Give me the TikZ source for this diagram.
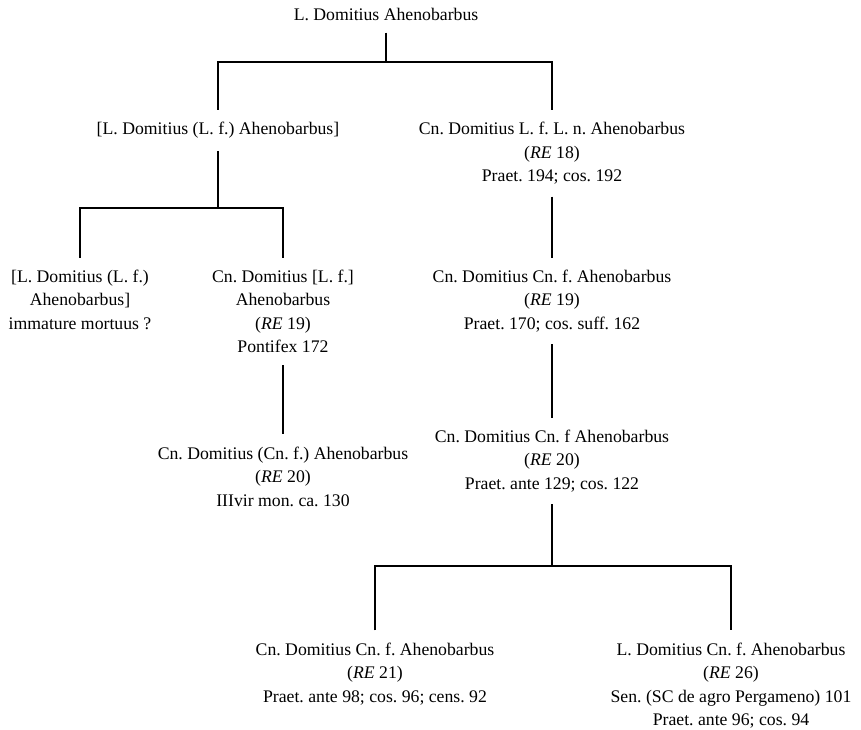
\documentclass[tikz,border=0pt]{standalone}
\usepackage{fontspec}
\setmainfont{Liberation Serif}
\frenchspacing
\begin{document}
\begin{tikzpicture}[
        person/.style={align=center, anchor=north, inner xsep=0pt, inner ysep=0.3cm,
            font=\fontsize{12.6}{16.7}\selectfont},
        link/.style={black, line width=1.1pt}
    ]
        \useasboundingbox (0,0) rectangle (21.525,18.25);
        % generations, top to bottom
        \node[person] (ahen) at (9.65, 18.36) {L. Domitius Ahenobarbus};
        \node[person] (lfa) at (5.45, 15.5) {[L. Domitius (L. f.) Ahenobarbus]};
        \node[person] (cn18) at (13.8, 15.5) {Cn. Domitius L. f. L. n. Ahenobarbus\\(\textit{RE} 18)\\Praet. 194; cos. 192};
        \node[person] (immat) at (2.0, 11.81) {[L. Domitius (L. f.)\\Ahenobarbus]\\immature mortuus ?};
        \node[person] (cn19p) at (7.075, 11.81) {Cn. Domitius [L. f.]\\Ahenobarbus\\(\textit{RE} 19)\\Pontifex 172};
        \node[person] (cn19) at (13.8, 11.81) {Cn. Domitius Cn. f. Ahenobarbus\\(\textit{RE} 19)\\Praet. 170; cos. suff. 162};
        \node[person] (cn20m) at (7.075, 7.39) {Cn. Domitius (Cn. f.) Ahenobarbus\\(\textit{RE} 20)\\IIIvir mon. ca. 130};
        \node[person] (cn20) at (13.8, 7.81) {Cn. Domitius Cn. f Ahenobarbus\\(\textit{RE} 20)\\Praet. ante 129; cos. 122};
        \node[person] (cn21) at (9.375, 2.49) {Cn. Domitius Cn. f. Ahenobarbus\\(\textit{RE} 21)\\Praet. ante 98; cos. 96; cens. 92};
        \node[person] (l26) at (18.275, 2.49) {L. Domitius Cn. f. Ahenobarbus\\(\textit{RE} 26)\\Sen. (SC de agro Pergameno) 101\\Praet. ante 96; cos. 94};
        % branching points
        \coordinate (j1) at (9.65, 16.7);
        \coordinate (j2) at (5.45, 13.05);
        \coordinate (j3) at (13.8, 4.1);
        % descent lines
        \draw[link] (ahen.south) -- (j1);
        \draw[link] (lfa.north) |- (j1) -| (cn18.north);
        \draw[link] (lfa.south) -- (j2);
        \draw[link] (immat.north) |- (j2) -| (cn19p.north);
        \draw[link] (cn18.south) -- (cn19.north);
        \draw[link] (cn19p.south) -- (cn20m.north);
        \draw[link] (cn19.south) -- (cn20.north);
        \draw[link] (cn20.south) -- (j3);
        \draw[link] (cn21.north) |- (j3) -| (l26.north);
    \end{tikzpicture}
\end{document}
